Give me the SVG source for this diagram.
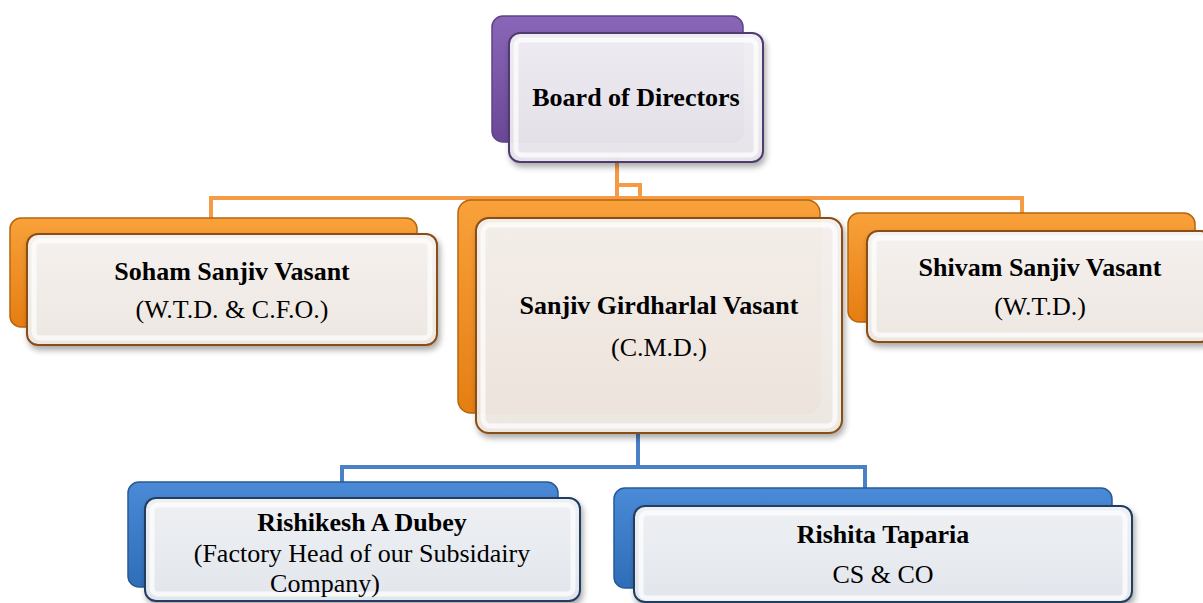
<svg xmlns="http://www.w3.org/2000/svg" width="1203" height="603" viewBox="0 0 1203 603">
<defs>
<linearGradient id="gPurple" x1="0" y1="0" x2="0" y2="1"><stop offset="0" stop-color="#8a66b8"/><stop offset="1" stop-color="#6a4896"/></linearGradient>
<linearGradient id="gOrange" x1="0" y1="0" x2="0" y2="1"><stop offset="0" stop-color="#f9a13a"/><stop offset="1" stop-color="#e57e12"/></linearGradient>
<linearGradient id="gBlue" x1="0" y1="0" x2="0" y2="1"><stop offset="0" stop-color="#4a8ad6"/><stop offset="1" stop-color="#2f6db8"/></linearGradient>
<linearGradient id="fPurple" x1="0" y1="0" x2="0" y2="1"><stop offset="0" stop-color="#f2f0f4"/><stop offset="1" stop-color="#e6e3ea"/></linearGradient>
<linearGradient id="fOrange" x1="0" y1="0" x2="0" y2="1"><stop offset="0" stop-color="#f5f1ee"/><stop offset="1" stop-color="#ede7e2"/></linearGradient>
<linearGradient id="fBlue" x1="0" y1="0" x2="0" y2="1"><stop offset="0" stop-color="#eef0f3"/><stop offset="1" stop-color="#e2e6ec"/></linearGradient>
<filter id="sh" x="-10%" y="-10%" width="120%" height="130%"><feGaussianBlur in="SourceAlpha" stdDeviation="3"/><feOffset dx="2" dy="4"/><feComponentTransfer><feFuncA type="linear" slope="0.35"/></feComponentTransfer><feMerge><feMergeNode/><feMergeNode in="SourceGraphic"/></feMerge></filter>
</defs>
<style>
.t{font-family:"Liberation Serif","Times New Roman",serif;font-size:26px;fill:#000;text-anchor:middle}
.b{font-weight:bold}
.bev{fill:none;stroke:#ffffff;stroke-opacity:0.7;stroke-width:5}
.cp{fill:none;stroke:#f59a45;stroke-width:4}
.cb{fill:none;stroke:#4a80c6;stroke-width:4}
.fp{stroke:#4f3a70;stroke-width:2}
.fo{stroke:#8a4d14;stroke-width:2}
.fb{stroke:#213e62;stroke-width:2}
</style>
<g id="connectors">
<path class="cp" d="M617,152 V198 M617,185 H640 V200 M211,218 V198 H1022 V213"/>
<path class="cb" d="M638,433 V467 M342,482 V467 H865 V488"/>
</g>
<g id="board">
<rect x="492" y="16" width="251" height="126" rx="11" fill="url(#gPurple)" stroke="#5c4484" stroke-width="1.5"/>
<rect x="509" y="33" width="254" height="129" rx="11" fill="url(#fPurple)" class="fp" filter="url(#sh)" fill-opacity="0.96"/>
<rect x="516" y="40" width="240" height="115" rx="6" class="bev"/>
<text class="t b" x="636" y="106">Board of Directors</text>
</g>
<g id="soham">
<rect x="10" y="218" width="407" height="109" rx="11" fill="url(#gOrange)" stroke="#b5650f" stroke-width="1.5"/>
<rect x="27" y="234" width="410" height="111" rx="11" fill="url(#fOrange)" class="fo" filter="url(#sh)"/>
<rect x="34" y="241" width="396" height="97" rx="6" class="bev"/>
<text class="t b" x="232" y="280">Soham Sanjiv Vasant</text>
<text class="t" x="232" y="318">(W.T.D. &amp; C.F.O.)</text>
</g>
<g id="sanjiv">
<rect x="458" y="200" width="362" height="213" rx="13" fill="url(#gOrange)" stroke="#b5650f" stroke-width="1.5"/>
<rect x="476" y="218" width="366" height="215" rx="13" fill="url(#fOrange)" class="fo" filter="url(#sh)" fill-opacity="0.96"/>
<rect x="483" y="225" width="352" height="201" rx="8" class="bev"/>
<text class="t b" x="659" y="314">Sanjiv Girdharlal Vasant</text>
<text class="t" x="659" y="356">(C.M.D.)</text>
</g>
<g id="shivam">
<rect x="848" y="213" width="347" height="109" rx="11" fill="url(#gOrange)" stroke="#b5650f" stroke-width="1.5"/>
<rect x="867" y="231" width="345" height="111" rx="11" fill="url(#fOrange)" class="fo" filter="url(#sh)"/>
<rect x="874" y="238" width="340" height="97" rx="6" class="bev"/>
<text class="t b" x="1040" y="276">Shivam Sanjiv Vasant</text>
<text class="t" x="1040" y="315">(W.T.D.)</text>
</g>
<g id="rishikesh">
<rect x="128" y="482" width="430" height="105" rx="11" fill="url(#gBlue)" stroke="#2a5a96" stroke-width="1.5"/>
<rect x="145" y="498" width="435" height="103" rx="11" fill="url(#fBlue)" class="fb" filter="url(#sh)"/>
<rect x="152" y="505" width="421" height="89" rx="6" class="bev"/>
<text class="t b" x="362" y="531">Rishikesh A Dubey</text>
<text class="t" x="362" y="562">(Factory Head of our Subsidairy</text>
<text class="t" x="325" y="592">Company)</text>
</g>
<g id="rishita">
<rect x="614" y="488" width="498" height="100" rx="11" fill="url(#gBlue)" stroke="#2a5a96" stroke-width="1.5"/>
<rect x="634" y="506" width="498" height="96" rx="11" fill="url(#fBlue)" class="fb" filter="url(#sh)"/>
<rect x="641" y="513" width="484" height="85" rx="6" class="bev"/>
<text class="t b" x="883" y="543">Rishita Taparia</text>
<text class="t" x="883" y="583">CS &amp; CO</text>
</g>
</svg>
